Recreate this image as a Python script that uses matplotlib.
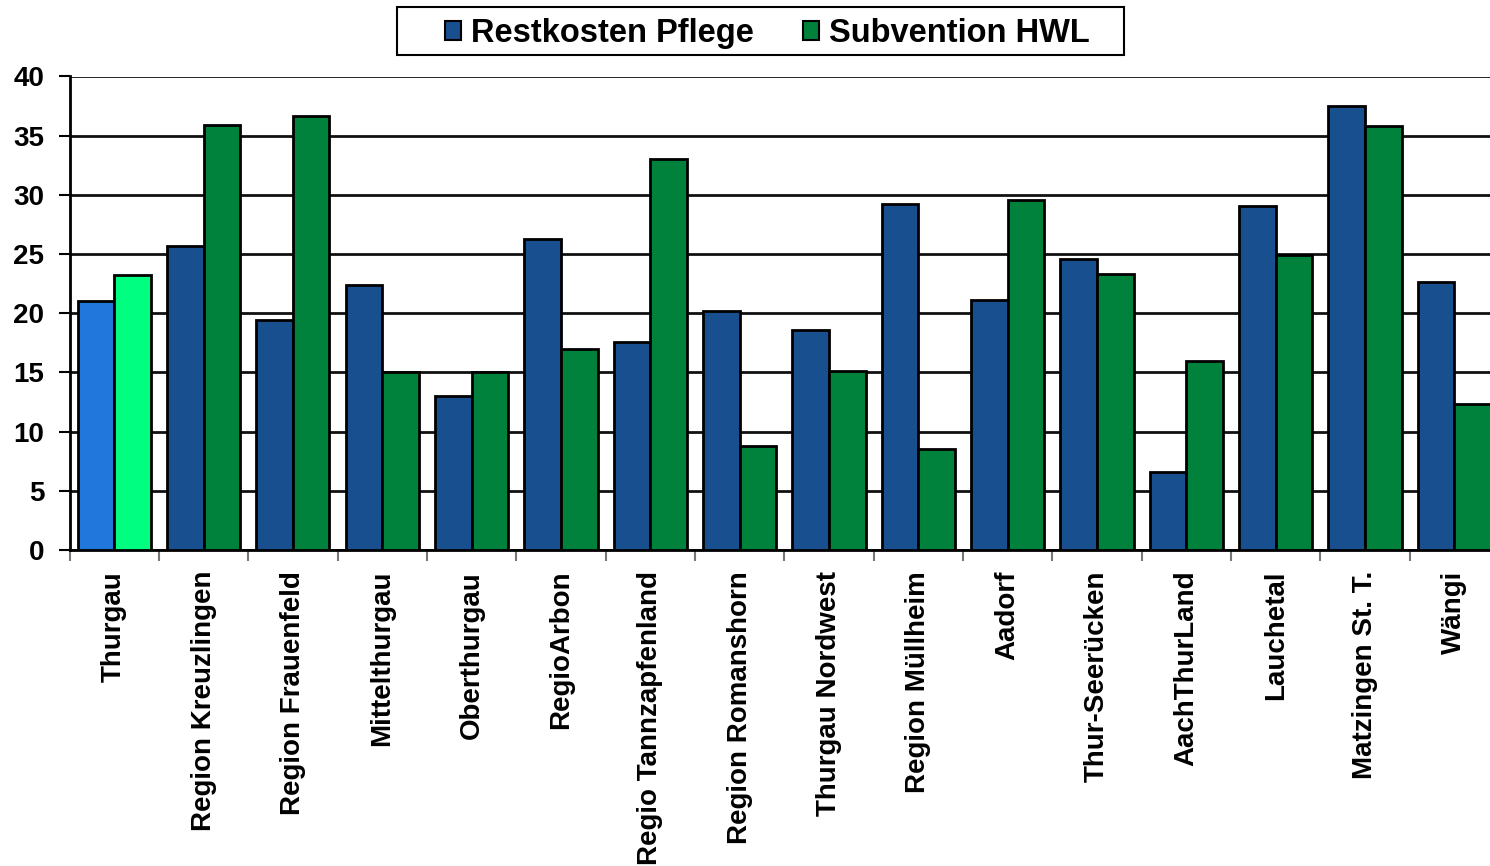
import matplotlib
matplotlib.use("Agg")
import matplotlib.pyplot as plt
import numpy as np
from matplotlib.patches import Patch, Rectangle

categories = ["Thurgau", "Region Kreuzlingen", "Region Frauenfeld", "Mittelthurgau",
              "Oberthurgau", "RegioArbon", "Regio Tannzapfenland", "Region Romanshorn",
              "Thurgau Nordwest", "Region Müllheim", "Aadorf", "Thur-Seerücken",
              "AachThurLand", "Lauchetal", "Matzingen St. T.", "Wängi"]
restkosten = [21.0, 25.7, 19.4, 22.4, 13.0, 26.3, 17.6, 20.2, 18.6, 29.2, 21.1, 24.6,
              6.6, 29.1, 37.5, 22.6]
subvention = [23.2, 35.9, 36.7, 15.0, 15.0, 17.0, 33.0, 8.8, 15.1, 8.5, 29.6, 23.3,
              16.0, 24.9, 35.8, 12.3]
yticks = [0, 5, 10, 15, 20, 25, 30, 35, 40]

plt.rcParams['font.family'] = ['Liberation Sans', 'DejaVu Sans']
plt.rcParams['font.weight'] = 'bold'

W, H = 1490, 866
fig = plt.figure(figsize=(W / 100, H / 100), dpi=100)
left, right, top, bottom = 69.5, 1499, 76.5, 550
ax = fig.add_axes([left / W, 1 - bottom / H, (right - left) / W, (bottom - top) / H])

blue = "#174f8f"
green = "#00823c"
blue_t = "#2277dd"
green_t = "#00ff80"

n = len(categories)
x = np.arange(n)
bw = 0.41
bcols = [blue_t] + [blue] * (n - 1)
gcols = [green_t] + [green] * (n - 1)
ax.bar(x - bw / 2, restkosten, width=bw, color=bcols, edgecolor="black", linewidth=2, zorder=3)
ax.bar(x + bw / 2, subvention, width=bw, color=gcols, edgecolor="black", linewidth=2, zorder=3)

ax.set_xlim(-0.5, n - 0.5)
ax.set_ylim(0, 40)
ax.set_yticks(yticks)
ax.set_yticklabels([str(v) for v in yticks], fontsize=20, fontweight='bold')
ax.yaxis.grid(True, color="#111111", linewidth=2, zorder=0)
ax.set_axisbelow(True)

ax.set_xticks(np.arange(n + 1) - 0.5)
ax.set_xticklabels([])
ax.set_xticks(x, minor=True)
ax.set_xticklabels(categories, minor=True, rotation=90, fontsize=20, fontweight='bold',
                   va='top', ha='center')
ax.tick_params(axis='x', which='major', length=8, width=1.5, color="#777777", direction='out')
ax.tick_params(axis='x', which='minor', length=0, pad=15)
ax.tick_params(axis='y', length=8, width=1.5, color="black", pad=10)

for s in ['top', 'right']:
    ax.spines[s].set_visible(False)
for s in ['left', 'bottom']:
    ax.spines[s].set_linewidth(2)
    ax.spines[s].set_color("black")

# legend frame
fig.add_artist(Rectangle((397 / W, 1 - 55 / H), (1124 - 397) / W, 48 / H,
                         transform=fig.transFigure, facecolor="white", edgecolor="black",
                         linewidth=1.5, zorder=1))
handles = [Patch(facecolor=blue, edgecolor="black", linewidth=1.5, label="Restkosten Pflege"),
           Patch(facecolor=green, edgecolor="black", linewidth=1.5, label="Subvention HWL")]
leg = fig.legend(handles=handles, loc='center', bbox_to_anchor=(767 / W, 1 - 33.5 / H),
                 ncol=2, frameon=False, prop={'size': 23.5, 'weight': 'bold'},
                 handlelength=0.5, handleheight=0.55, handletextpad=0.3, columnspacing=1.5,
                 borderpad=0.0)
leg.set_zorder(2)

fig.savefig("out.png", dpi=100)
